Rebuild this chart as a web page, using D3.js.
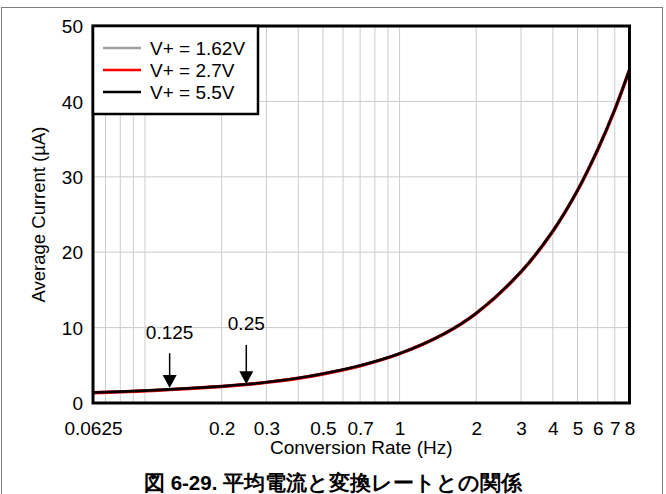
<!DOCTYPE html>
<html><head><meta charset="utf-8">
<script src="https://cdn.jsdelivr.net/npm/d3@7"></script>
<style>
html,body{margin:0;padding:0;background:#fff;}
svg{display:block;}
text{font-family:"Liberation Sans",Arial,sans-serif;}
</style></head>
<body>
<script>
// ---- data ----
const rates = [0.0625, 0.08, 0.1, 0.125, 0.15, 0.2, 0.25, 0.3, 0.4, 0.5, 0.7, 1, 1.5, 2, 3, 4, 5, 6, 7, 8];
const current162 = [1.38, 1.5, 1.63, 1.8, 1.95, 2.2, 2.47, 2.75, 3.3, 3.87, 4.95, 6.55, 9.2, 11.9, 17.4, 22.8, 28.2, 33.6, 38.9, 44.2];
const current27  = [1.36, 1.48, 1.61, 1.78, 1.93, 2.18, 2.45, 2.73, 3.28, 3.85, 4.93, 6.53, 9.18, 11.88, 17.38, 22.78, 28.18, 33.58, 38.88, 44.18];
const current55  = [1.39, 1.51, 1.64, 1.81, 1.96, 2.21, 2.48, 2.76, 3.31, 3.88, 4.96, 6.56, 9.21, 11.91, 17.41, 22.81, 28.21, 33.61, 38.91, 44.21];
const seriesNames = ["V+ = 1.62V", "V+ = 2.7V", "V+ = 5.5V"];
const seriesColors = ["#a0a0a0", "#ff0000", "#000000"];
const xTickValues = [0.0625, 0.2, 0.3, 0.5, 0.7, 1, 2, 3, 4, 5, 6, 7, 8];
const xTickLabels = ["0.0625", "0.2", "0.3", "0.5", "0.7", "1", "2", "3", "4", "5", "6", "7", "8"];
const xGridValues = [0.07,0.08,0.09,0.1,0.2,0.3,0.4,0.5,0.6,0.7,0.8,0.9,1,2,3,4,5,6,7,8];
const yTickValues = [0, 10, 20, 30, 40, 50];
const annotRates = [0.125, 0.25];
const annotLabels = ["0.125", "0.25"];
const annotTip = [2.0, 2.5];
const annotStart = [6.6, 7.7];
const annotText = [8.5, 9.7];
const xTitle = "Conversion Rate (Hz)";
const yTitle = "Average Current (\u00B5A)";
const caption = "図 6-29. 平均電流と変換レートとの関係";

// ---- layout ----
const W = 666, H = 494;
const L = 93, R = 629.5, T = 26, B = 403;
const FS = 19;

const svg = d3.select("body").append("svg").attr("width", W).attr("height", H);

// outer frame
svg.append("rect").attr("x", 1.5).attr("y", 7.5).attr("width", 661).attr("height", 520)
  .attr("fill", "none").attr("stroke", "#7f7f7f").attr("stroke-width", 1);

const x = d3.scaleLog().domain([0.0625, 8]).range([L, R]);
const y = d3.scaleLinear().domain([0, 50]).range([B, T]);

// grid
const g = svg.append("g");
g.selectAll("line.vg").data(xGridValues).enter().append("line")
  .attr("x1", d => x(d)).attr("x2", d => x(d)).attr("y1", T).attr("y2", B)
  .attr("stroke", "#cccccc").attr("stroke-width", 1);
g.selectAll("line.hg").data(yTickValues.slice(1, -1)).enter().append("line")
  .attr("x1", L).attr("x2", R).attr("y1", d => y(d)).attr("y2", d => y(d))
  .attr("stroke", "#cccccc").attr("stroke-width", 1);

// axes (labels only)
const xAxis = d3.axisBottom(x).tickValues(xTickValues).tickSize(0).tickPadding(0)
  .tickFormat((d, i) => xTickLabels[i]);
const xa = svg.append("g").attr("transform", `translate(0,${B + 32})`).call(xAxis);
xa.select(".domain").remove();
xa.selectAll("text").attr("font-size", FS).attr("fill", "#000").attr("dy", 0)
  .attr("font-family", "Liberation Sans, Arial, sans-serif");

const yAxis = d3.axisLeft(y).tickValues(yTickValues).tickSize(0).tickPadding(0);
const ya = svg.append("g").attr("transform", `translate(${L - 10},0)`).call(yAxis);
ya.select(".domain").remove();
ya.selectAll("text").attr("font-size", FS).attr("fill", "#000").attr("dy", "0.35em")
  .attr("font-family", "Liberation Sans, Arial, sans-serif");

// axis titles
svg.append("text").attr("x", (L + R) / 2).attr("y", 454).attr("text-anchor", "middle")
  .attr("font-size", FS).text(xTitle);
svg.append("text").attr("transform", `translate(45,${(T + B) / 2}) rotate(-90)`)
  .attr("text-anchor", "middle").attr("font-size", 18.5).text(yTitle);

// curves
const allSeries = [current162, current27, current55];
const line = d3.line().x((d, i) => x(rates[i])).y(d => y(d)).curve(d3.curveCatmullRom.alpha(0.5));
const widths = [3, 3.4, 2.6];
allSeries.forEach((s, k) => {
  svg.append("path").datum(s).attr("d", line).attr("fill", "none")
    .attr("stroke", seriesColors[k]).attr("stroke-width", widths[k]);
});

// annotations
annotRates.forEach((r, i) => {
  const ax = x(r);
  svg.append("line").attr("x1", ax).attr("x2", ax).attr("y1", y(annotStart[i])).attr("y2", y(annotTip[i]) - 10)
    .attr("stroke", "#000").attr("stroke-width", 1.5);
  svg.append("path").attr("d", `M${ax - 7},${y(annotTip[i]) - 13} L${ax + 7},${y(annotTip[i]) - 13} L${ax},${y(annotTip[i])} Z`)
    .attr("fill", "#000");
  svg.append("text").attr("x", ax).attr("y", y(annotText[i])).attr("text-anchor", "middle")
    .attr("font-size", FS).text(annotLabels[i]);
});

// plot border
svg.append("rect").attr("x", L).attr("y", T).attr("width", R - L).attr("height", B - T)
  .attr("fill", "none").attr("stroke", "#000").attr("stroke-width", 3);

// legend
const lg = svg.append("g");
lg.append("rect").attr("x", L).attr("y", T).attr("width", 165).attr("height", 88)
  .attr("fill", "#fff").attr("stroke", "#000").attr("stroke-width", 2.5);
const legY = [48, 70, 92];
seriesNames.forEach((n, i) => {
  lg.append("line").attr("x1", 103).attr("x2", 141).attr("y1", legY[i]).attr("y2", legY[i])
    .attr("stroke", seriesColors[i]).attr("stroke-width", 2.5);
  lg.append("text").attr("x", 150).attr("y", legY[i]).attr("dy", "0.35em")
    .attr("font-size", FS).text(n);
});

// caption
svg.append("text").attr("x", 333).attr("y", 490).attr("text-anchor", "middle")
  .attr("font-family", "'Noto Sans CJK JP', sans-serif").attr("font-weight", "bold")
  .attr("font-size", 20.5).text(caption);
</script>
</body></html>
